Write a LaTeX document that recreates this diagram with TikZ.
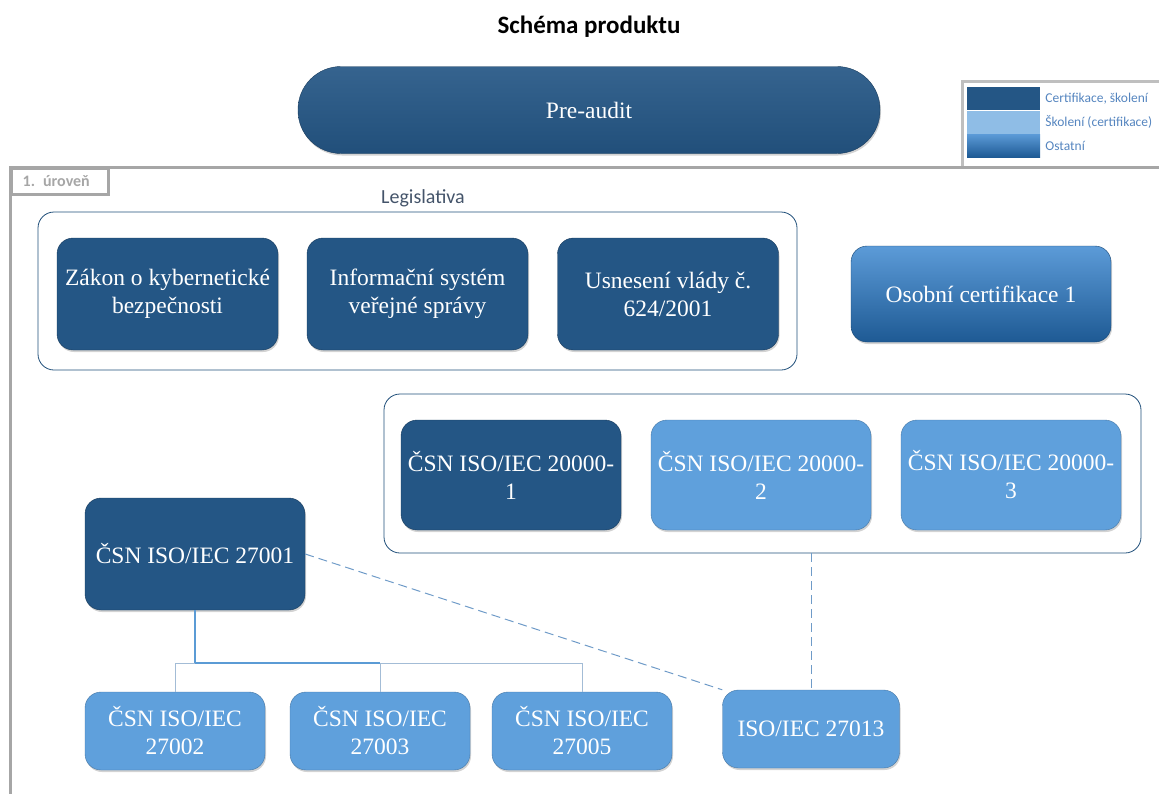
\documentclass[tikz,border=0pt]{standalone}
\usepackage{fontspec}
\setmainfont{Liberation Serif}
\newfontfamily\calibri{Carlito}
\usetikzlibrary{shadows,positioning}

\definecolor{darkbox}{HTML}{245685}
\definecolor{lightbox}{HTML}{5FA0DC}
\definecolor{gradtop}{HTML}{5C9BD8}
\definecolor{gradbot}{HTML}{1E5A94}
\definecolor{framegray}{HTML}{A6A6A6}
\definecolor{keygray}{HTML}{BFBFBF}
\definecolor{groupline}{HTML}{1F4E79}
\definecolor{linkblue}{HTML}{5B9BD5}
\definecolor{dashblue}{HTML}{6F9BC8}
\definecolor{dropblue}{HTML}{A3BCD6}
\definecolor{keytext}{HTML}{5585BF}
\definecolor{labelgray}{HTML}{44546A}

\begin{document}
\begin{tikzpicture}[x=1pt,y=-1pt,
  box/.style={rounded corners=16pt, text=white, align=center, inner sep=0pt,
    font=\fontsize{23.5}{28}\selectfont,
    drop shadow={opacity=0.35,shadow xshift=1pt,shadow yshift=-2pt}},
  certbox/.style={box, fill=darkbox, draw=darkbox!70!black},
  trainbox/.style={box, fill=lightbox, draw=lightbox!75!black},
  otherbox/.style={box, top color=gradtop, bottom color=gradbot, draw=gradbot!80!black},
  group/.style={draw=groupline, rounded corners=16pt, line width=0.8pt, inner sep=0pt},
  keybox/.style={minimum width=73pt, minimum height=23pt, inner sep=0pt},
  keylabel/.style={right=5pt of #1, inner sep=0pt, text=keytext, font=\calibri\fontsize{13.5}{16}\selectfont}]
\useasboundingbox (0,0) rectangle (1159,793);

% title and pre-audit
\node[font=\calibri\bfseries\fontsize{25}{30}\selectfont] (title) at (589,27) {Schéma produktu};
\node[box, rounded corners=43pt, minimum width=582pt, minimum height=87pt,
  top color=darkbox!92!white, bottom color=darkbox!92!black, draw=darkbox!70!black] (preaudit) at (589,110) {Pre-audit};

% legend
\draw[keygray, line width=3pt] (1165,81) -- (962,81) -- (962,167);
\node[keybox, fill=darkbox] (keycert) at (1003.5,98.5) {};
\node[keybox, fill=lightbox!70!white] (keytrain) at (1003.5,122) {};
\node[keybox, top color=gradtop, bottom color=gradbot] (keyother) at (1003.5,145.5) {};
\node[keylabel=keycert] {Certifikace, školení};
\node[keylabel=keytrain] {Školení (certifikace)};
\node[keylabel=keyother] {Ostatní};

% level frame
\draw[framegray, line width=3pt] (10,795) -- (10,167) -- (1165,167);
\node[draw=framegray, line width=2.5pt, anchor=north west, minimum width=97pt, minimum height=26pt,
  inner xsep=0pt, text width=82pt, align=left, text=framegray, font=\calibri\bfseries\fontsize{16}{18}\selectfont] (tab) at (10,167) {\hspace*{4pt}1. úroveň};

% legislativa
\node[text=labelgray, font=\calibri\fontsize{20}{24}\selectfont] (legtitle) at (423,198) {Legislativa};
\node[group, minimum width=759pt, minimum height=158pt] (legisl) at (417.5,291) {};
\node[certbox, minimum width=221pt, minimum height=112pt] (zkb) at (167.5,294) {Zákon o kybernetické\\bezpečnosti};
\node[certbox, minimum width=221pt, minimum height=112pt] (isvs) at (417.5,294) {Informační systém\\veřejné správy};
\node[certbox, minimum width=221pt, minimum height=112pt] (usneseni) at (668,294) {Usnesení vlády č.\\624/2001};
\node[otherbox, minimum width=260pt, minimum height=96pt] (osobni) at (981,294) {Osobní certifikace 1};

% 20000 group
\node[group, minimum width=757pt, minimum height=159pt] (normy20000) at (762.5,473.5) {};
\node[certbox, minimum width=220pt, minimum height=110pt] (iso20001) at (511,475) {ČSN ISO/IEC 20000-\\1};
\node[trainbox, minimum width=220pt, minimum height=110pt] (iso20002) at (761,475) {ČSN ISO/IEC 20000-\\2};
\node[trainbox, minimum width=220pt, minimum height=110pt] (iso20003) at (1011,475) {ČSN ISO/IEC 20000-\\3};

% 27000 family
\node[certbox, minimum width=220pt, minimum height=112pt] (iso27001) at (195,554) {ČSN ISO/IEC 27001};
\node[trainbox, minimum width=180pt, minimum height=78pt] (iso27002) at (175,731) {ČSN ISO/IEC\\27002};
\node[trainbox, minimum width=180pt, minimum height=78pt] (iso27003) at (380,731) {ČSN ISO/IEC\\27003};
\node[trainbox, minimum width=180pt, minimum height=78pt] (iso27005) at (582,731) {ČSN ISO/IEC\\27005};
\node[trainbox, minimum width=177pt, minimum height=78pt] (iso27013) at (811,729) {ISO/IEC 27013};

% connectors
\coordinate (fork) at (195,663);
\draw[linkblue, line width=1.2pt] (iso27001.south) -- (fork);
\draw[dropblue, line width=0.8pt] (iso27002.north) -- (iso27002.north |- fork) -- (iso27005.north |- fork) -- (iso27005.north);
\draw[dropblue, line width=0.8pt] (iso27003.north) -- (iso27003.north |- fork);
\draw[linkblue, line width=1.2pt] (fork) -- (iso27003.north |- fork);
\draw[dashblue, line width=1pt, dash pattern=on 9pt off 5pt] (iso27001.east) -- (iso27013.north west);
\draw[dashblue, line width=1pt, dash pattern=on 9pt off 5pt] (iso27013.north |- normy20000.south) -- (iso27013.north);
\end{tikzpicture}
\end{document}
